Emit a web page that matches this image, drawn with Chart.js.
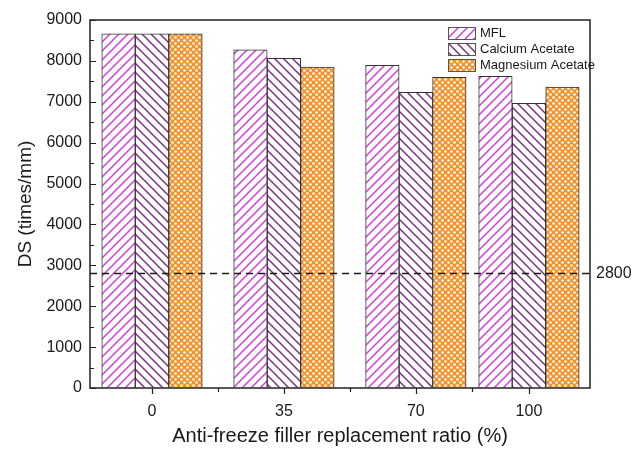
<!DOCTYPE html>
<html lang="en">
<head>
<meta charset="UTF-8">
<title>DS vs anti-freeze filler replacement ratio</title>
<script src="https://cdn.jsdelivr.net/npm/chart.js"></script>
<style>
    html, body { margin: 0; padding: 0; background: #ffffff; }
    #wrap { width: 644px; height: 451px; }
</style>
</head>
<body>
<div id="wrap"><canvas id="ds-chart" width="644" height="451"></canvas></div>
<script>
// values (DS, times/mm)
const ratios = [0, 35, 70, 100];
const seriesNames = ['MFL', 'Calcium Acetate', 'Magnesium Acetate'];
const mflValues = [8660, 8270, 7890, 7620];
const calciumValues = [8660, 8060, 7230, 6960];
const magnesiumValues = [8660, 7850, 7600, 7360];
const threshold = 2800;
const xMinorTicks = [17.5, 52.5, 85];
const yMax = 9000;
const yStep = 1000;

const fontFamily = 'Arial, "Liberation Sans", sans-serif';
const ink = '#1a1a1a';

// hatch fills
function linePattern(color, dir) {
    const n = 9;
    const c = document.createElement('canvas');
    c.width = n; c.height = n;
    const g = c.getContext('2d');
    g.fillStyle = '#ffffff';
    g.fillRect(0, 0, n, n);
    g.strokeStyle = color;
    g.lineWidth = 1.5;
    g.beginPath();
    if (dir === '/') {
        g.moveTo(-2, n + 2); g.lineTo(n + 2, -2);
        g.moveTo(-2, 2); g.lineTo(2, -2);
        g.moveTo(n - 2, n + 2); g.lineTo(n + 2, n - 2);
    } else {
        g.moveTo(-2, -2); g.lineTo(n + 2, n + 2);
        g.moveTo(-2, n - 2); g.lineTo(2, n + 2);
        g.moveTo(n - 2, -2); g.lineTo(n + 2, 2);
    }
    g.stroke();
    return g.createPattern(c, 'repeat');
}

function dotPattern(color) {
    const c = document.createElement('canvas');
    c.width = 6; c.height = 6;
    const g = c.getContext('2d');
    g.fillStyle = color;
    g.fillRect(0, 0, 6, 6);
    g.fillStyle = '#ffffff';
    [[1.5, 1.5], [4.5, 4.5]].forEach(p => {
        g.beginPath();
        g.arc(p[0], p[1], 1.3, 0, Math.PI * 2);
        g.fill();
    });
    return g.createPattern(c, 'repeat');
}

const fills = [
    linePattern('#d040d4', '/'),
    linePattern('#7a3282', '\\'),
    dotPattern('#f2942c')
];

function toPoints(values) {
    return ratios.map((r, i) => ({ x: r, y: values[i] }));
}

const framePlugin = {
    id: 'frame',
    afterDatasetsDraw(chart) {
        const { ctx, chartArea: a, scales: { x, y } } = chart;
        ctx.save();

        // 2800 reference line
        const ty = y.getPixelForValue(threshold);
        ctx.strokeStyle = ink;
        ctx.lineWidth = 1.5;
        ctx.setLineDash([7, 5]);
        ctx.beginPath();
        ctx.moveTo(a.left, ty);
        ctx.lineTo(a.right, ty);
        ctx.stroke();
        ctx.setLineDash([]);
        ctx.fillStyle = ink;
        ctx.font = '16px ' + fontFamily;
        ctx.textBaseline = 'middle';
        ctx.textAlign = 'left';
        ctx.fillText(String(threshold), a.right + 6, ty);

        // box around plot
        ctx.lineWidth = 1.5;
        ctx.strokeStyle = '#222';
        ctx.strokeRect(a.left, a.top, a.right - a.left, a.bottom - a.top);

        // ticks: x outward, y inward
        ctx.lineWidth = 1.2;
        ctx.beginPath();
        ratios.forEach(v => {
            const px = Math.round(x.getPixelForValue(v)) + 0.5;
            ctx.moveTo(px, a.bottom);
            ctx.lineTo(px, a.bottom + 6);
        });
        xMinorTicks.forEach(v => {
            const px = Math.round(x.getPixelForValue(v)) + 0.5;
            ctx.moveTo(px, a.bottom);
            ctx.lineTo(px, a.bottom + 4);
        });
        for (let v = 0; v <= yMax; v += yStep / 2) {
            const py = Math.round(y.getPixelForValue(v)) + 0.5;
            const len = v % yStep === 0 ? 6 : 4;
            ctx.moveTo(a.left, py);
            ctx.lineTo(a.left + len, py);
        }
        ctx.stroke();

        // legend, top right inside the box
        const rows = [33, 49, 65];
        ctx.font = '13px ' + fontFamily;
        chart.data.datasets.forEach((ds, i) => {
            const cy = rows[i];
            ctx.fillStyle = ds.backgroundColor;
            ctx.fillRect(448, cy - 6, 27, 12);
            ctx.strokeStyle = '#555';
            ctx.lineWidth = 1;
            ctx.strokeRect(448.5, cy - 5.5, 27, 12);
            ctx.fillStyle = ink;
            ctx.fillText(ds.label, 480, cy);
        });

        ctx.restore();
    }
};

const ctx = document.getElementById('ds-chart').getContext('2d');
const chart = new Chart(ctx, {
    type: 'bar',
    data: {
        datasets: [mflValues, calciumValues, magnesiumValues].map((vals, i) => ({
            label: seriesNames[i],
            data: toPoints(vals),
            backgroundColor: fills[i],
            borderColor: '#333',
            borderWidth: 1,
            barThickness: 33.5
        }))
    },
    options: {
        responsive: false,
        animation: false,
        layout: { padding: { left: 0, right: 54, top: 20, bottom: 0 } },
        plugins: {
            legend: { display: false },
            tooltip: { enabled: false }
        },
        scales: {
            x: {
                type: 'linear',
                min: -16.45,
                max: 116.2,
                offset: false,
                afterBuildTicks: s => { s.ticks = ratios.map(v => ({ value: v })); },
                afterFit: s => { s.height = 63; },
                grid: { drawOnChartArea: false, drawTicks: false },
                border: { display: false },
                ticks: {
                    padding: 14,
                    color: ink,
                    font: { family: fontFamily, size: 16 },
                    callback: v => String(v)
                },
                title: {
                    display: true,
                    text: 'Anti-freeze filler replacement ratio (%)',
                    color: ink,
                    font: { family: fontFamily, size: 20 },
                    padding: { top: 0, bottom: 3 }
                }
            },
            y: {
                min: 0,
                max: yMax,
                afterFit: s => { s.width = 90; },
                grid: { drawOnChartArea: false, drawTicks: false },
                border: { display: false },
                ticks: {
                    stepSize: yStep,
                    padding: 8,
                    color: ink,
                    font: { family: fontFamily, size: 16 },
                    callback: v => String(v)
                },
                title: {
                    display: true,
                    text: 'DS (times/mm)',
                    color: ink,
                    font: { family: fontFamily, size: 19 },
                    padding: { top: 14, bottom: 0 }
                }
            }
        }
    },
    plugins: [framePlugin]
});
</script>
</body>
</html>
